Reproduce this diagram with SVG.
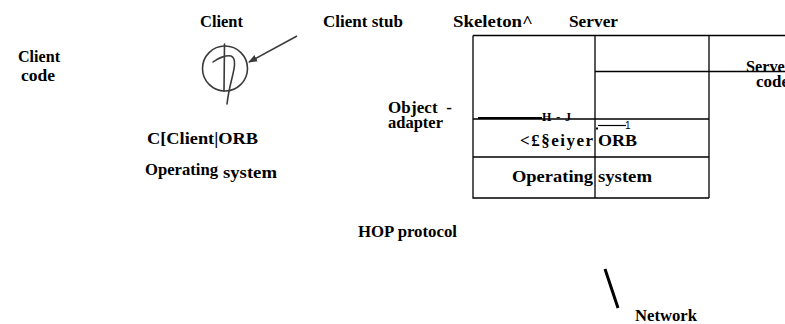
<svg xmlns="http://www.w3.org/2000/svg" width="785" height="324" viewBox="0 0 785 324">
<style>
text{font-family:"Liberation Serif","Times New Roman",serif;font-weight:bold;font-size:17px;fill:#000}
.sm{font-size:12px}
.tl{stroke:#000;stroke-width:1.3;fill:none}
.sk{stroke:#3a3a3a;stroke-width:1.6;fill:none;stroke-linecap:round}
</style>
<defs>
<marker id="ah" viewBox="0 0 10 10" refX="9" refY="5" markerWidth="9" markerHeight="9" markerUnits="userSpaceOnUse" orient="auto">
<path d="M0,1 L10,5 L0,9 z" fill="#3a3a3a"/>
</marker>
</defs>
<rect width="785" height="324" fill="#fff"/>

<g id="labels">
<text x="200" y="26.5" textLength="43" lengthAdjust="spacingAndGlyphs">Client</text>
<text x="323" y="26.5" textLength="80" lengthAdjust="spacingAndGlyphs">Client stub</text>
<text x="453" y="26.5" textLength="80" lengthAdjust="spacingAndGlyphs">Skeleton^</text>
<text x="569" y="26.5" textLength="49" lengthAdjust="spacingAndGlyphs">Server</text>
<text x="18" y="61.5" textLength="42" lengthAdjust="spacingAndGlyphs">Client</text>
<text x="21" y="80.5" textLength="34" lengthAdjust="spacingAndGlyphs">code</text>
<text x="388" y="113" textLength="64" lengthAdjust="spacing" xml:space="preserve">Object  -</text>
<text x="388" y="128" textLength="55" lengthAdjust="spacingAndGlyphs">adapter</text>
<text x="147" y="144" textLength="111" lengthAdjust="spacingAndGlyphs">C[Client|ORB</text>
<text x="145" y="175" textLength="73" lengthAdjust="spacingAndGlyphs">Operating</text>
<text x="223" y="177.5" textLength="54" lengthAdjust="spacingAndGlyphs">system</text>
<text x="358" y="237" textLength="99" lengthAdjust="spacingAndGlyphs">HOP protocol</text>
<text x="635" y="321" textLength="62" lengthAdjust="spacingAndGlyphs">Network</text>
</g>

<g id="server-table">
<path class="tl" d="M473,35.5 H785 M473,35.5 V198 H709 M595,35.5 V198 M709,35.5 V198 M595,71.5 H785 M473,119 H709 M473,157 H709"/>
<line x1="478" y1="118" x2="542" y2="118" stroke="#000" stroke-width="2"/>
<text class="sm" x="542" y="120.5" textLength="29" lengthAdjust="spacing">H - J</text>
<rect x="596" y="127.5" width="2" height="2" fill="#000"/>
<line x1="598" y1="125.5" x2="626" y2="125.5" stroke="#000" stroke-width="1.2"/>
<text x="625" y="129" style="font-family:'Liberation Sans',Arial,sans-serif;font-weight:normal;font-size:10px">1</text>
<text x="520" y="145.5" textLength="73" lengthAdjust="spacing">&lt;£§eiyer</text>
<text x="598" y="145.5" textLength="39" lengthAdjust="spacingAndGlyphs">ORB</text>
<text x="512" y="182" textLength="81" lengthAdjust="spacingAndGlyphs">Operating</text>
<text x="598" y="182" textLength="54" lengthAdjust="spacingAndGlyphs">system</text>
<text x="746" y="72" textLength="46" lengthAdjust="spacingAndGlyphs">Server</text>
<text x="756" y="86.5" textLength="33" lengthAdjust="spacingAndGlyphs">code</text>
</g>

<g id="client-icon">
<circle class="sk" cx="225" cy="68.5" r="22.5"/>
<line class="sk" x1="224.5" y1="44" x2="224" y2="91"/>
<path class="sk" d="M213,62 C218,58 226,55 231,56 C237,58 234,70 232,78 C230,86 228,95 227,104"/>
</g>

<g id="connectors">
<line x1="297" y1="36" x2="249" y2="62" stroke="#3a3a3a" stroke-width="1.5" marker-end="url(#ah)"/>
<line x1="605" y1="269" x2="618" y2="308" stroke="#000" stroke-width="3"/>
</g>
</svg>
